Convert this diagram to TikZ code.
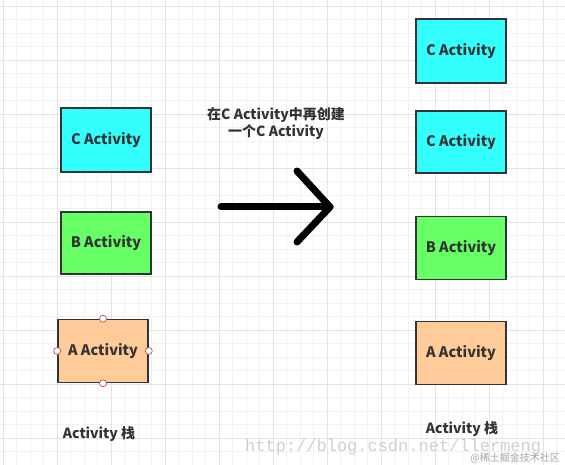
\documentclass[tikz,border=0pt]{standalone}
\usepackage{fontspec}
\setmainfont{Noto Sans CJK SC}
\newfontfamily\wmfont{Liberation Mono}
\usetikzlibrary{positioning}

\definecolor{textgray}{HTML}{333333}
\definecolor{cfill}{HTML}{33FFFF}
\definecolor{bfill}{HTML}{66FF66}
\definecolor{afill}{HTML}{FFCC99}
\definecolor{gridminor}{HTML}{F2F2F2}
\definecolor{gridmajor}{HTML}{E3E3E3}
\definecolor{handlered}{HTML}{C0504D}

\tikzset{
    actbox/.style={draw=textgray, line width=1.6pt, minimum width=90pt,
        minimum height=63pt, text=textgray, font=\bfseries\fontsize{14.5}{17}\selectfont},
    caption/.style={text=textgray, font=\bfseries\fontsize{14}{17}\selectfont, align=center},
    handle/.style={circle, draw=handlered, fill=white, line width=0.7pt,
        inner sep=0pt, minimum size=7pt}
}

\begin{document}
\begin{tikzpicture}[x=1pt, y=-1pt]
    \useasboundingbox (0,0) rectangle (565,465);

    % -----------------------------------------------------
    % 1) Fondo: papel cuadriculado
    % -----------------------------------------------------
    \fill[white] (0,0) rectangle (565,465);
    \foreach \gx in {0,...,42}
        \draw[gridminor, line width=0.6pt] ({3+13.5*\gx},0) -- ({3+13.5*\gx},465);
    \foreach \gy in {0,...,34}
        \draw[gridminor, line width=0.6pt] (0,{6+13.5*\gy}) -- (565,{6+13.5*\gy});
    \foreach \gx in {0,...,10}
        \draw[gridmajor, line width=0.8pt] ({3+54*\gx},0) -- ({3+54*\gx},465);
    \foreach \gy in {0,...,8}
        \draw[gridmajor, line width=0.8pt] (0,{6+54*\gy}) -- (565,{6+54*\gy});

    % -----------------------------------------------------
    % 2) Pila de la izquierda (antes)
    % -----------------------------------------------------
    \node[actbox, fill=cfill, minimum height=64pt] (cLeft) at (106,140) {C Activity};
    \node[actbox, fill=bfill, minimum height=62pt] (bLeft) at (106,243) {B Activity};
    \node[actbox, fill=afill] (aLeft) at (103,351) {A Activity};
    % Puntos de seleccion sobre A
    \node[handle] (hTop) at (aLeft.north) {};
    \node[handle] (hBottom) at (aLeft.south) {};
    \node[handle] (hLeft) at (aLeft.west) {};
    \node[handle] (hRight) at (aLeft.east) {};
    \node[caption] (stackLeft) at (99,434) {Activity 栈};

    % -----------------------------------------------------
    % 3) Flecha y texto
    % -----------------------------------------------------
    \node[caption] (note) at (276,124) {在C Activity中再创建\\一个C Activity};
    \coordinate (arrTail) at (221,207);
    \coordinate (arrTip) at (330,207);
    \coordinate (arrUp) at (297,171);
    \coordinate (arrDown) at (297,242);
    \draw[black, line width=7pt, line cap=round] (arrTail) -- (arrTip);
    \draw[black, line width=7pt, line cap=round, line join=round]
        (arrUp) -- (arrTip) -- (arrDown);

    % -----------------------------------------------------
    % 4) Pila de la derecha (despues)
    % -----------------------------------------------------
    \node[actbox, fill=cfill, minimum height=64pt] (cTop) at (461,51) {C Activity};
    \node[actbox, fill=cfill, minimum height=62pt] (cRight) at (461,142) {C Activity};
    \node[actbox, fill=bfill] (bRight) at (461,248) {B Activity};
    \node[actbox, fill=afill] (aRight) at (461,353) {A Activity};
    \node[caption] (stackRight) at (462,429) {Activity 栈};

    % -----------------------------------------------------
    % 5) Marcas de agua
    % -----------------------------------------------------
    \node[anchor=base west, text=black!18, font=\wmfont\fontsize{17}{20}\selectfont, inner sep=0pt]
        (wmUrl) at (245,451) {http://blog.csdn.net/llermeng};
    \node[anchor=base east, text=black!35, font=\fontsize{10}{12}\selectfont, inner sep=0pt]
        (wmSite) at (560,461) {@稀土掘金技术社区};
\end{tikzpicture}
\end{document}
